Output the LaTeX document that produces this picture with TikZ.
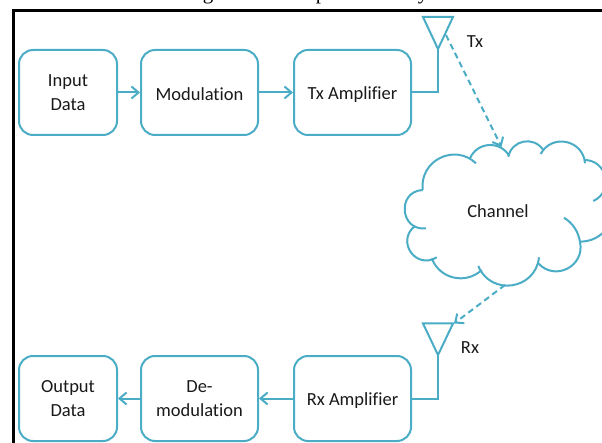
\documentclass[tikz,border=0pt]{standalone}
\usepackage{fontspec}
\setmainfont[Ligatures=NoCommon]{Carlito}
\newfontfamily\captionfont{Liberation Serif}
\usetikzlibrary{positioning,arrows.meta}
\definecolor{linkblue}{RGB}{75,172,198}
\tikzset{
	block/.style={draw=linkblue,line width=2pt,rounded corners=14pt,align=center,minimum height=85pt,inner sep=0pt,text=black!90,font=\fontsize{18.5}{24}\selectfont,execute at begin node={\rule{0pt}{17pt}}},
	wire/.style={draw=linkblue,line width=2pt},
	link/.style={wire,-{Straight Barb[length=7pt,width=12pt]}},
	radio/.style={link,dash pattern=on 6pt off 4pt},
	tag/.style={text=black!90,font=\fontsize{18.5}{24}\selectfont},
	cut/.style={anchor=base,inner sep=0pt,font=\captionfont\fontsize{21}{24}\selectfont},
}
\begin{document}
\begin{tikzpicture}[x=1pt,y=-1pt]
	\useasboundingbox (0,0) rectangle (602,443);
	\clip (0,0) rectangle (602,443);
	% caption cut off by the crop
	\node[cut] (capg) at (208,0) {g};
	\node[cut] (capp) at (321,0) {p};
	\node[cut] (capy) at (423,0) {y};
	\draw[line width=3pt,line join=miter] (13,443) -- (13,11) -- (602,11);
	% top row
	\node[block,minimum width=98pt] (input) at (68,92.5) {Input\\Data};
	\node[block,minimum width=117pt] (mod) [right=22pt of input] {Modulation};
	\node[block,minimum width=117pt] (txamp) [right=34pt of mod] {Tx Amplifier};
	% bottom row
	\node[block,minimum width=98pt] (output) at (68,398.5) {Output\\Data};
	\node[block,minimum width=117pt] (demod) [right=22pt of output] {De-\\modulation};
	\node[block,minimum width=117pt] (rxamp) [right=34pt of demod] {Rx Amplifier};
	% antennas
	\coordinate (txtip) at (438,49);
	\coordinate (rxtip) at (438,355);
	\coordinate (txside) at (446,35);
	\coordinate (rxside) at (454,323.5);
	\draw[wire,line join=miter] (txtip) -- ++(-15,-32) -- ++(30,0) -- cycle;
	\draw[wire,line join=miter] (rxtip) -- ++(-15,-31.5) -- ++(30,0) -- cycle;
	\draw[wire] (txamp.east) -| (txtip);
	\draw[wire] (rxamp.east) -| (rxtip);
	\node[tag] (txlabel) at (475,42) {Tx};
	\node[tag] (rxlabel) at (470,348) {Rx};
	% cloud
	\node[tag] (channel) at (498,211) {Channel};
	\coordinate (cloudtop) at (501.5,147);
	\coordinate (cloudfoot) at (505,285);
	\draw[wire] (422.7,190) to[bend left=70,looseness=1.27] (476,163.3);
	\draw[wire] (470,158.3) to[bend left=63,looseness=1.18] (509.3,156);
	\draw[wire] (508.3,156.7) to[bend left=67,looseness=1.24] (543.3,150);
	\draw[wire] (540.7,154) to[bend left=74,looseness=1.33] (585,163.3);
	\draw[wire] (584,160) to[bend left=78,looseness=1.41] (593.3,201);
	\draw[wire] (564,217.7) to[bend left=25,looseness=0.9] (580,242) to[bend left=75,looseness=1.35] (538.3,263.3);
	\draw[wire] (579.3,241.7) to[bend right=20] (604,232);
	\draw[wire] (539,257.3) to[bend left=76,looseness=1.37] (478.3,266);
	\draw[wire] (481.7,270) to[bend left=56,looseness=1.1] (431.7,258.3);
	\draw[wire] (436.7,257.3) to[bend left=87,looseness=1.65] (415,226);
	\draw[wire] (426,228.3) to[bend left=92,looseness=1.75] (422.7,190);
	% links
	\path[link] (input) edge (mod)
		(mod) edge (txamp)
		(rxamp) edge (demod)
		(demod) edge (output);
	\draw[radio] (txside) -- (cloudtop);
	\draw[radio] (cloudfoot) -- (rxside);
\end{tikzpicture}
\end{document}
